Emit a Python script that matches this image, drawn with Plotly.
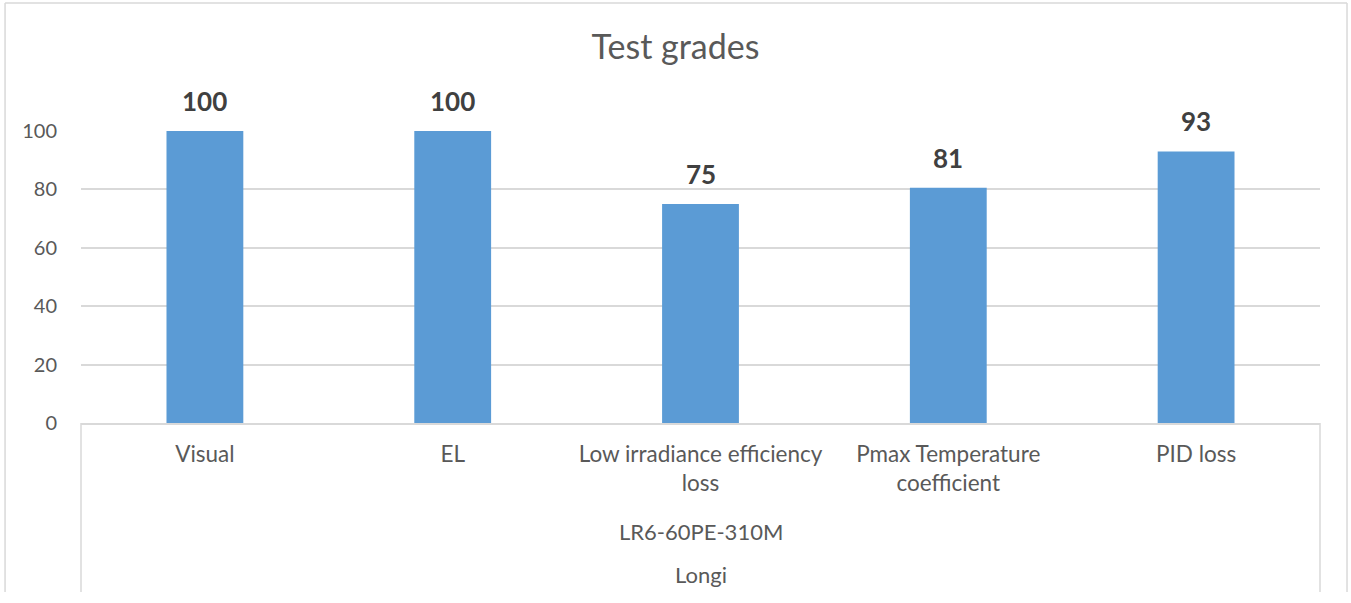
import plotly.graph_objects as go

categories = ["Visual", "EL", "Low irradiance efficiency<br>loss", "Pmax Temperature<br>coefficient", "PID loss"]
values = [100, 100, 75, 80.6, 93]
labels = ["100", "100", "75", "81", "93"]
model = "LR6-60PE-310M"
brand = "Longi"
title = "Test grades"
y_ticks = [0, 20, 40, 60, 80, 100]

FONT = "Lato"
GRID = "#D9D9D9"

fig = go.Figure()
fig.add_trace(go.Bar(x=categories, y=values, width=0.31, marker=dict(color="#5B9BD5", line=dict(width=0)),
                     hoverinfo="x+y"))

for c, v, t in zip(categories, values, labels):
    fig.add_annotation(x=c, y=v, text=f"<b>{t}</b>", showarrow=False, yanchor="bottom", yshift=12,
                       font=dict(family=FONT, size=26, color="#404040"))

# multi-level axis outer labels
fig.add_annotation(xref="paper", yref="paper", x=0.5, y=-0.37, text=model, showarrow=False,
                   yanchor="middle", font=dict(family=FONT, size=22, color="#595959"))
fig.add_annotation(xref="paper", yref="paper", x=0.5, y=-0.52, text=brand, showarrow=False,
                   yanchor="middle", font=dict(family=FONT, size=22, color="#595959"))

# axis group dividers
for xp in (0, 1):
    fig.add_shape(type="line", xref="paper", yref="paper", x0=xp, x1=xp, y0=0, y1=-0.579,
                  line=dict(color=GRID, width=1.5))

# chart border
bl, br, bt, bb = -0.0613, 1.0218, 1.438, -0.579
fig.add_shape(type="line", xref="paper", yref="paper", x0=bl, x1=br, y0=bt, y1=bt, line=dict(color=GRID, width=1.5))
fig.add_shape(type="line", xref="paper", yref="paper", x0=bl, x1=bl, y0=bt, y1=bb, line=dict(color=GRID, width=1.5))
fig.add_shape(type="line", xref="paper", yref="paper", x0=br, x1=br, y0=bt, y1=bb, line=dict(color=GRID, width=1.5))

fig.update_layout(
    width=1351, height=603,
    margin=dict(l=81, r=31, t=131, b=180),
    paper_bgcolor="white", plot_bgcolor="white",
    showlegend=False,
    title=dict(text=title, x=0.5, xanchor="center", y=1 - 47 / 603, yanchor="middle",
               font=dict(family=FONT, size=34, color="#595959")),
    font=dict(family=FONT, size=21, color="#595959"),
    xaxis=dict(type="category", range=[-0.5, 4.5], showgrid=False, showline=True, linecolor=GRID, linewidth=1.5,
               ticks="", ticklabelstandoff=10, tickfont=dict(family=FONT, size=22.5, color="#595959"),
               fixedrange=True),
    yaxis=dict(range=[0, 100], tickvals=y_ticks, showgrid=True, gridcolor=GRID, gridwidth=1.5, zeroline=False,
               showline=False, ticks="", ticklabelstandoff=23,
               tickfont=dict(family=FONT, size=20, color="#595959"), fixedrange=True),
)

fig.write_html("out.html", config={"displayModeBar": False}, post_script="document.body.style.margin='0';")
